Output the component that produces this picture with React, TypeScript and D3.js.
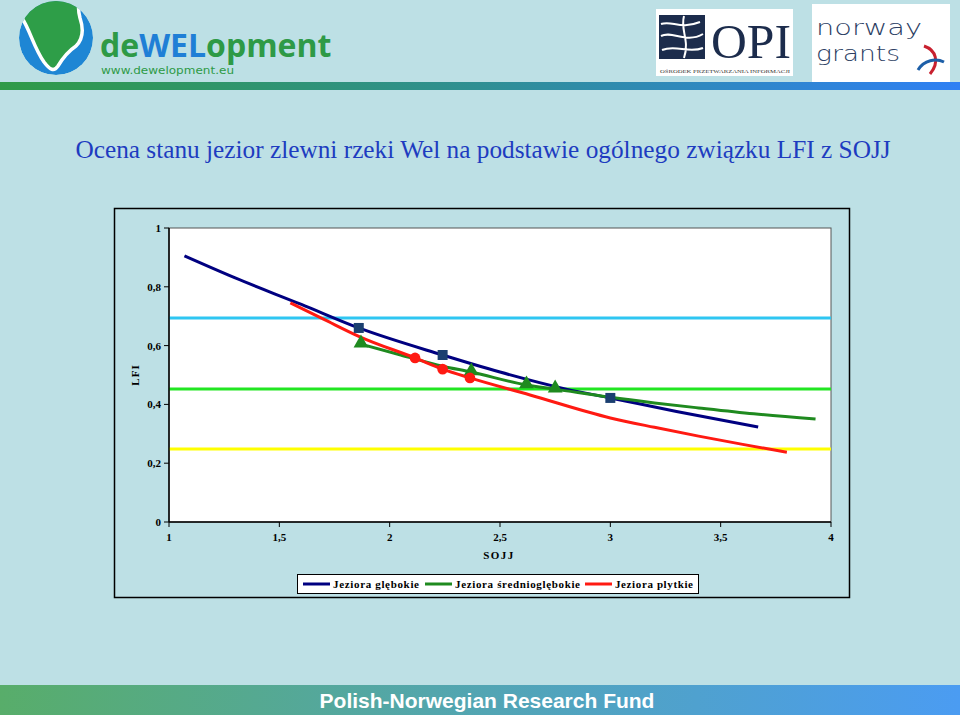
import React from 'react';
import * as d3 from 'd3';

// values
const deepX = [1.07, 1.3, 1.6, 1.86, 2.24, 2.5, 2.8, 3.0, 3.3, 3.67];
const deepY = [0.905, 0.83, 0.74, 0.66, 0.568, 0.51, 0.452, 0.422, 0.376, 0.323];
const deepMarkX = [1.86, 2.24, 3.0];
const deepMarkY = [0.66, 0.568, 0.422];

const midX = [1.87, 2.05, 2.24, 2.37, 2.62, 2.75, 3.0, 3.2, 3.4, 3.65, 3.93];
const midY = [0.605, 0.568, 0.53, 0.51, 0.466, 0.452, 0.424, 0.405, 0.388, 0.368, 0.35];
const midMarkX = [1.87, 2.37, 2.62, 2.75];
const midMarkY = [0.605, 0.51, 0.466, 0.452];

const shallowX = [1.55, 1.7, 1.865, 2.115, 2.24, 2.364, 2.636, 3.0, 3.2, 3.4, 3.6, 3.8];
const shallowY = [0.745, 0.69, 0.63, 0.558, 0.52, 0.49, 0.432, 0.354, 0.322, 0.292, 0.264, 0.237];
const shallowMarkX = [2.115, 2.24, 2.364];
const shallowMarkY = [0.558, 0.52, 0.49];

const thresholds = [0.694, 0.452, 0.248];
const thresholdColors = ['#2ec6f2', '#22e622', '#ffff00'];

const xTicks = [1, 1.5, 2, 2.5, 3, 3.5, 4];
const yTicks = [0, 0.2, 0.4, 0.6, 0.8, 1];

const legendLabels = ['Jeziora glębokie', 'Jeziora średnioglębokie', 'Jeziora plytkie'];
const seriesColors = ['#000080', '#1f8a1f', '#ff1a12'];

const title = 'Ocena stanu jezior zlewni rzeki Wel na podstawie ogólnego związku LFI z SOJJ';
const footer = 'Polish-Norwegian Research Fund';

const W = 960;
const H = 715;
const BG = '#bde0e5';
const SERIF = '"Liberation Serif", "Times New Roman", serif';
const SANS = '"DejaVu Sans", sans-serif';

const fmt = (v: number) => String(v).replace('.', ',');

const App: React.FC = () => {
  const plot = { left: 169, right: 831, top: 228, bottom: 522 };
  const x = d3.scaleLinear().domain([1, 4]).range([plot.left, plot.right]);
  const y = d3.scaleLinear().domain([0, 1]).range([plot.bottom, plot.top]);

  const line = d3
    .line<[number, number]>()
    .x((d) => x(d[0]))
    .y((d) => y(d[1]))
    .curve(d3.curveMonotoneX);

  const zip = (xs: number[], ys: number[]) => xs.map((v, i) => [v, ys[i]] as [number, number]);
  const series = [zip(deepX, deepY), zip(midX, midY), zip(shallowX, shallowY)];

  const square = d3.symbol().type(d3.symbolSquare).size(100)() as string;
  const triangle = d3.symbol().type(d3.symbolTriangle).size(95)() as string;
  const circle = d3.symbol().type(d3.symbolCircle).size(90)() as string;

  const legendX = 297;
  const legendY = 574;
  const legendLineX = [303, 425, 585];
  const legendTextW = [86, 125, 78];

  // globe boundary (white river line)
  const river =
    'M22,18 C30,30 34,48 44,62 C50,70 54,72 58,66 C64,56 70,50 76,46 C82,40 84,30 80,18 C78,10 78,4 80,0';

  return (
    <div style={{ position: 'fixed', left: 0, top: 0, width: W, height: H }}>
      <svg width={W} height={H} style={{ display: 'block' }}>
        <defs>
          <linearGradient id="hdrBar" x1="0" x2="1">
            <stop offset="0%" stopColor="#2f9a47" />
            <stop offset="50%" stopColor="#2f8f93" />
            <stop offset="100%" stopColor="#2f80f4" />
          </linearGradient>
          <linearGradient id="ftrBar" x1="0" x2="1">
            <stop offset="0%" stopColor="#58ad6a" />
            <stop offset="45%" stopColor="#53a6ac" />
            <stop offset="100%" stopColor="#4b9cf2" />
          </linearGradient>
          <clipPath id="globe">
            <circle cx={56} cy={38} r={37} />
          </clipPath>
        </defs>

        <rect width={W} height={H} fill={BG} />

        {/* header: deWELopment logo */}
        <g clipPath="url(#globe)">
          <circle cx={56} cy={38} r={37} fill="#1e86d4" />
          <path d={river + ' L14,0 Z'} fill="#2e9e48" />
          <path d={river} fill="none" stroke="#ffffff" strokeWidth={3.5} />
        </g>
        <text x={100} y={57} fontFamily='"Open Sans", sans-serif' fontWeight="bold" fontSize={32}>
          <tspan fill="#2e9a46">de</tspan>
          <tspan fill="#1f7fd6">WEL</tspan>
          <tspan fill="#2e9a46">opment</tspan>
        </text>
        <text x={101} y={74} fontFamily={SANS} fontSize={11} fill="#2e9a46" textLength={133} lengthAdjust="spacingAndGlyphs">
          www.dewelopment.eu
        </text>

        {/* header: OPI logo */}
        <rect x={656} y={9} width={137} height={67} fill="#ffffff" />
        <rect x={659} y={15} width={46} height={44} fill="#1c2c4c" />
        <path
          d="M661,24 C672,20 680,30 700,22 M661,36 C672,30 686,44 703,34 M662,50 C676,44 688,54 703,48 M684,16 C680,30 690,40 684,58"
          fill="none"
          stroke="#ffffff"
          strokeWidth={2}
        />
        <text x={711} y={58} fontFamily={SERIF} fontSize={48} fill="#1c2c4c" textLength={80} lengthAdjust="spacingAndGlyphs">
          OPI
        </text>
        <text x={660} y={73} fontFamily={SERIF} fontSize={5} fill="#333" textLength={130} lengthAdjust="spacingAndGlyphs">
          OŚRODEK PRZETWARZANIA INFORMACJI
        </text>

        {/* header: norway grants logo */}
        <rect x={812} y={4} width={138} height={78} fill="#ffffff" />
        <text x={816} y={35} fontFamily={SANS} fontWeight={300} fontSize={22} fill="#2c3e63" textLength={106} lengthAdjust="spacingAndGlyphs">
          norway
        </text>
        <text x={816} y={61} fontFamily={SANS} fontWeight={300} fontSize={22} fill="#2c3e63" textLength={84} lengthAdjust="spacingAndGlyphs">
          grants
        </text>
        <path d="M924,46 C936,50 940,62 930,74" fill="none" stroke="#c8202f" strokeWidth={3} />
        <path d="M918,70 C924,60 936,58 944,62" fill="none" stroke="#1d5fa8" strokeWidth={3} />

        <rect x={0} y={82} width={W} height={8} fill="url(#hdrBar)" />

        {/* title */}
        <text x={483} y={158} textAnchor="middle" fontFamily={SERIF} fontSize={25.3} fill="#1e3cc0">
          {title}
        </text>

        {/* chart frame */}
        <rect x={114.5} y={208.5} width={735} height={389} fill="none" stroke="#000" strokeWidth={1.5} />
        <rect
          x={plot.left}
          y={plot.top}
          width={plot.right - plot.left}
          height={plot.bottom - plot.top}
          fill="#ffffff"
          stroke="#555"
          strokeWidth={1}
        />

        {/* threshold lines */}
        {thresholds.map((t, i) => (
          <line key={i} x1={plot.left} x2={plot.right} y1={y(t)} y2={y(t)} stroke={thresholdColors[i]} strokeWidth={3} />
        ))}

        {/* series */}
        {series.map((s, i) => (
          <path key={i} d={line(s) as string} fill="none" stroke={seriesColors[i]} strokeWidth={3} />
        ))}

        {deepMarkX.map((v, i) => (
          <path key={'d' + i} d={square} transform={`translate(${x(v)},${y(deepMarkY[i])})`} fill="#1b3f70" />
        ))}
        {midMarkX.map((v, i) => (
          <path key={'m' + i} d={triangle} transform={`translate(${x(v)},${y(midMarkY[i]) - 1})`} fill="#1f8a1f" />
        ))}
        {shallowMarkX.map((v, i) => (
          <path key={'s' + i} d={circle} transform={`translate(${x(v)},${y(shallowMarkY[i])})`} fill="#ff1a12" />
        ))}

        {/* axes */}
        <line x1={plot.left} x2={plot.left} y1={plot.top} y2={plot.bottom} stroke="#000" strokeWidth={1.5} />
        <line x1={plot.left} x2={plot.right} y1={plot.bottom} y2={plot.bottom} stroke="#000" strokeWidth={1.5} />
        {yTicks.map((t) => (
          <g key={'y' + t}>
            <line x1={plot.left - 5} x2={plot.left} y1={y(t)} y2={y(t)} stroke="#000" />
            <text x={plot.left - 8} y={y(t) + 4} textAnchor="end" fontFamily={SERIF} fontWeight="bold" fontSize={11}>
              {fmt(t)}
            </text>
          </g>
        ))}
        {xTicks.map((t) => (
          <g key={'x' + t}>
            <line x1={x(t)} x2={x(t)} y1={plot.bottom} y2={plot.bottom + 5} stroke="#000" />
            <text x={x(t)} y={plot.bottom + 19} textAnchor="middle" fontFamily={SERIF} fontWeight="bold" fontSize={11}>
              {fmt(t)}
            </text>
          </g>
        ))}
        <text x={499} y={559} textAnchor="middle" fontFamily={SERIF} fontWeight="bold" fontSize={11} letterSpacing={1.5}>
          SOJJ
        </text>
        <text transform="translate(139,375) rotate(-90)" textAnchor="middle" fontFamily={SERIF} fontWeight="bold" fontSize={11} letterSpacing={1}>
          LFI
        </text>

        {/* legend */}
        <rect x={legendX + 0.5} y={legendY + 0.5} width={401} height={19} fill="#ffffff" stroke="#000" strokeWidth={1} />
        {legendLabels.map((l, i) => (
          <g key={l}>
            <line
              x1={legendLineX[i]}
              x2={legendLineX[i] + 27}
              y1={legendY + 10}
              y2={legendY + 10}
              stroke={seriesColors[i]}
              strokeWidth={3}
            />
            <text
              x={legendLineX[i] + 30}
              y={legendY + 14}
              fontFamily={SERIF}
              fontWeight="bold"
              fontSize={11}
              textLength={legendTextW[i]}
              lengthAdjust="spacing"
            >
              {l}
            </text>
          </g>
        ))}

        {/* footer */}
        <rect x={0} y={685} width={W} height={30} fill="url(#ftrBar)" />
        <text x={487} y={708} textAnchor="middle" fontFamily='"Liberation Sans", Arial, sans-serif' fontWeight="bold" fontSize={21} fill="#ffffff">
          {footer}
        </text>
      </svg>
    </div>
  );
};

export default App;
